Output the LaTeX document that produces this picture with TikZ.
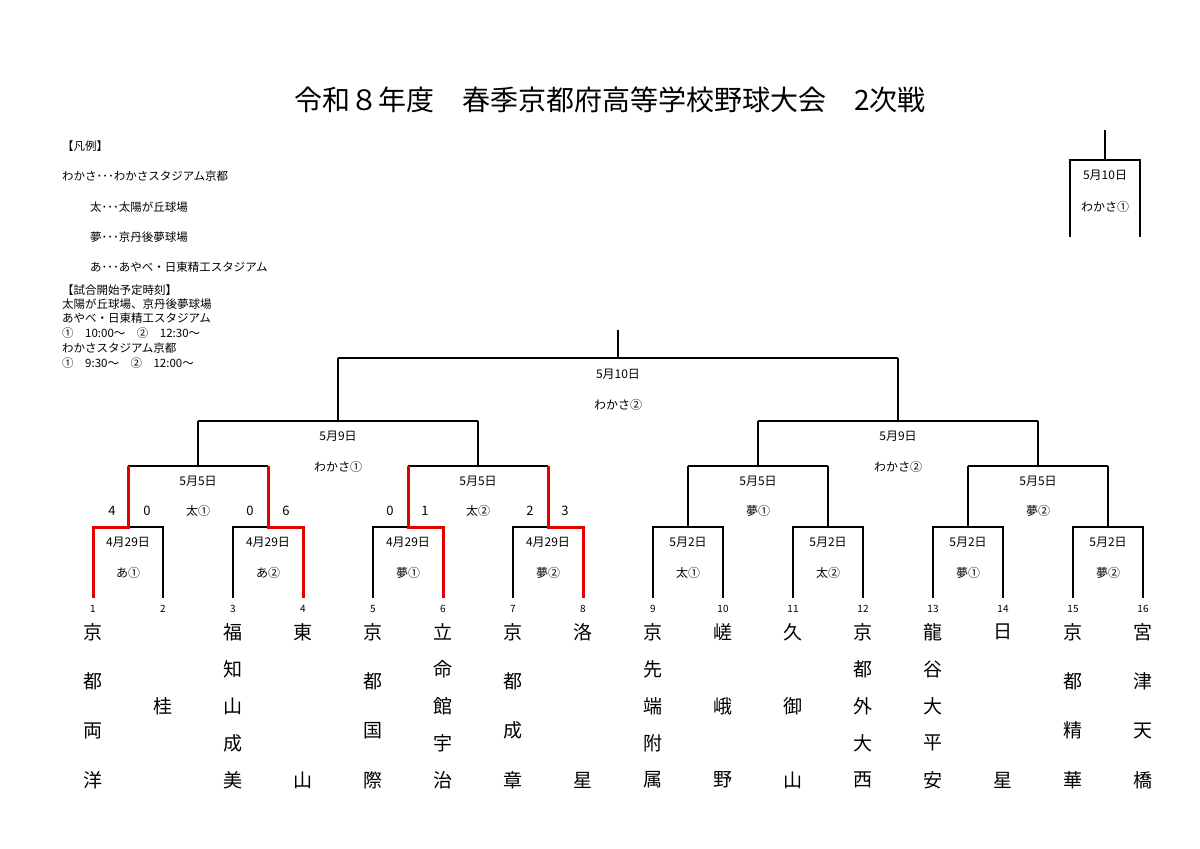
\documentclass[tikz,border=0pt]{standalone}
\usepackage{fontspec}
\setmainfont{Noto Sans CJK JP}
\usetikzlibrary{calc}
\begin{document}
\begin{tikzpicture}[x=1pt,y=-1pt,
 ln/.style={line width=1.3pt,black},
 rd/.style={line width=3pt,red!90!black},
 lb/.style={font=\fontsize{12}{12}\selectfont,inner sep=0pt},
 sc/.style={font=\fontsize{13}{13}\selectfont,inner sep=0pt},
 nm/.style={font=\fontsize{10}{10}\selectfont,inner sep=0pt},
 tm/.style={font=\fontsize{19}{19}\selectfont,inner sep=0pt},
 lg/.style={font=\fontsize{11.5}{11.5}\selectfont,inner sep=0pt,anchor=west}]
\useasboundingbox[fill=white] (0,0) rectangle (1200,849);
\node[font=\fontsize{28}{28}\selectfont] (title) at (610,100) {令和８年度　春季京都府高等学校野球大会　2次戦};
% legend
\node[lg] (l1) at (62,146) {【凡例】};
\node[lg] (l2) at (62,176) {わかさ･･･わかさスタジアム京都};
\node[lg] (l3) at (90,207) {太･･･太陽が丘球場};
\node[lg] (l4) at (90,237) {夢･･･京丹後夢球場};
\node[lg] (l5) at (90,267) {あ･･･あやべ・日東精工スタジアム};
\node[lg] (l6) at (62,290) {【試合開始予定時刻】};
\node[lg] (l7) at (62,304) {太陽が丘球場、京丹後夢球場};
\node[lg] (l8) at (62,318) {あやべ・日東精工スタジアム};
\node[lg] (l9) at (62,333) {①　10:00～　②　12:30～};
\node[lg] (l10) at (62,348) {わかさスタジアム京都};
\node[lg] (l11) at (62,363) {①　9:30～　②　12:00～};
% final box
\coordinate (ft) at (1105,130); \coordinate (fm) at (1105,160);
\coordinate (fl) at (1070,160); \coordinate (fr) at (1140,160);
\coordinate (flb) at (1070,237); \coordinate (frb) at (1140,237);
\draw[ln] (ft)--(fm) (flb)--(fl)--(fr)--(frb);
\node[lb] (fd) at (1105,175) {5月10日};
\node[lb] (fv) at (1105,207) {わかさ①};
% teams
\foreach \i in {1,...,16}{
 \pgfmathsetmacro\xx{23+70*\i}
 \coordinate (t\i) at (\xx,598);
 \node[nm] (n\i) at (\xx,609) {\i};
}
% round 1
\foreach \a/\b [count=\k] in {1/2,3/4,5/6,7/8,9/10,11/12,13/14,15/16}{
 \coordinate (a\k) at ($(t\a)+(0,-71)$);
 \coordinate (b\k) at ($(t\b)+(0,-71)$);
 \coordinate (m\k) at ($(a\k)!0.5!(b\k)$);
 \coordinate (mt\k) at ($(m\k)+(0,-61)$);
 \draw[ln] (t\a)--(a\k)--(b\k)--(t\b) (m\k)--(mt\k);
}
% round 2
\foreach \a/\b [count=\k] in {1/2,3/4,5/6,7/8}{
 \coordinate (q\k) at ($(mt\a)!0.5!(mt\b)$);
 \coordinate (qt\k) at ($(q\k)+(0,-45)$);
 \draw[ln] (mt\a)--(mt\b) (q\k)--(qt\k);
}
\foreach \a/\b [count=\k] in {1/2,3/4}{
 \coordinate (s\k) at ($(qt\a)!0.5!(qt\b)$);
 \coordinate (st\k) at ($(s\k)+(0,-63)$);
 \draw[ln] (qt\a)--(qt\b) (s\k)--(st\k);
}
\coordinate (top) at ($(st1)!0.5!(st2)$);
\coordinate (topt) at ($(top)+(0,-28)$);
\draw[ln] (st1)--(st2) (top)--(topt);
% red winners
\draw[rd] (t1)--(a1)--(m1)--(mt1);
\draw[rd] (t4)--(b2)--(m2)--(mt2);
\draw[rd] (t6)--(b3)--(m3)--(mt3);
\draw[rd] (t8)--(b4)--(m4)--(mt4);
% labels round 1
\foreach \k/\d/\v in {1/4月29日/あ①,2/4月29日/あ②,3/4月29日/夢①,4/4月29日/夢②,5/5月2日/太①,6/5月2日/太②,7/5月2日/夢①,8/5月2日/夢②}{
 \node[lb] (d\k) at ($(m\k)+(0,15)$) {\d};
 \node[lb] (v\k) at ($(m\k)+(0,46)$) {\v};
}
\foreach \k/\v in {1/太①,2/太②,3/夢①,4/夢②}{
 \node[lb] (dq\k) at ($(q\k)+(0,15)$) {5月5日};
 \node[lb] (vq\k) at ($(q\k)+(0,45)$) {\v};
}
\node[lb] (ds1) at ($(s1)+(0,15)$) {5月9日};
\node[lb] (vs1) at ($(s1)+(0,46)$) {わかさ①};
\node[lb] (ds2) at ($(s2)+(0,15)$) {5月9日};
\node[lb] (vs2) at ($(s2)+(0,46)$) {わかさ②};
\node[lb] (dt) at ($(top)+(0,16)$) {5月10日};
\node[lb] (vt) at ($(top)+(0,47)$) {わかさ②};
% scores
\foreach \x/\s [count=\k] in {112/4,147/0,250/0,286/6,390/0,425/1,530/2,565/3}
 \node[sc] (sc\k) at (\x,511) {\s};
% team names
\foreach \i/\sp/\list in {1/49.3/{京,都,両,洋},2/37/{,,桂},3/37/{福,知,山,成,美},4/148/{東,山},5/49.3/{京,都,国,際},6/37/{立,命,館,宇,治},7/49.3/{京,都,成,章},8/148/{洛,星},9/37/{京,先,端,附,属},10/74/{嵯,峨,野},11/74/{久,御,山},12/37/{京,都,外,大,西},13/37/{龍,谷,大,平,安},14/148/{日,星},15/49.3/{京,都,精,華},16/49.3/{宮,津,天,橋}}{
 \pgfmathsetmacro\xx{23+70*\i}
 \foreach \c [count=\r] in \list {
  \pgfmathsetmacro\yy{632+\sp*(\r-1)}
  \node[tm] (c\i-\r) at (\xx,\yy) {\c};
 }
}
\end{tikzpicture}
\end{document}
